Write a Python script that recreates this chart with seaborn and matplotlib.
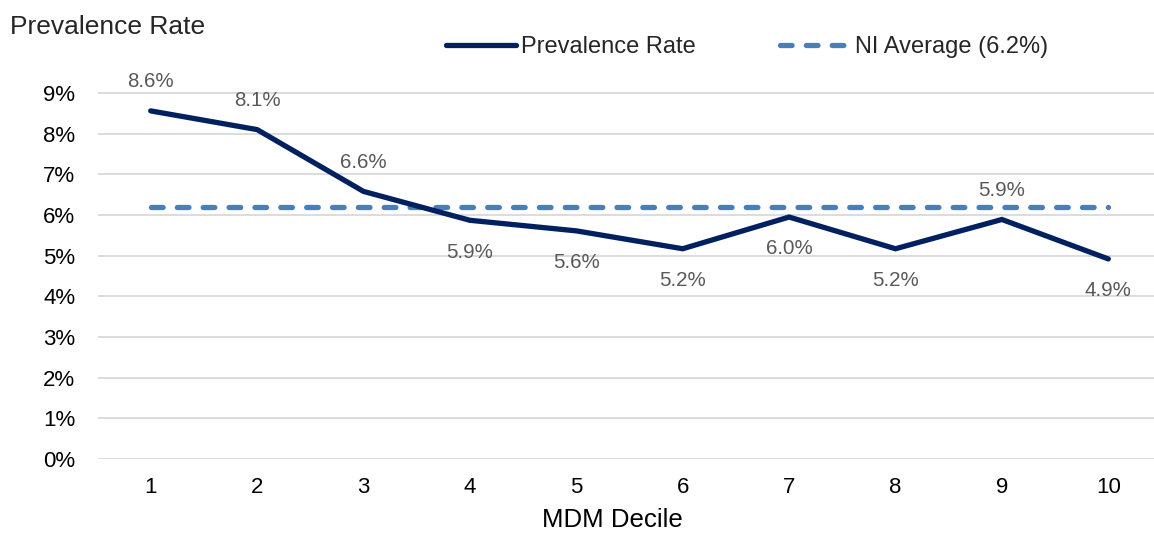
import pandas as pd
import matplotlib.pyplot as plt
import seaborn as sns
from matplotlib.lines import Line2D

# Data
deciles = [1, 2, 3, 4, 5, 6, 7, 8, 9, 10]
prevalence = [8.56, 8.10, 6.58, 5.87, 5.61, 5.17, 5.95, 5.17, 5.89, 4.92]
labels = ['8.6%', '8.1%', '6.6%', '5.9%', '5.6%', '5.2%', '6.0%', '5.2%', '5.9%', '4.9%']
label_above = [True, True, True, False, False, False, False, False, True, False]
ni_average = 6.2
y_ticks = [0, 1, 2, 3, 4, 5, 6, 7, 8, 9]

df = pd.DataFrame({'decile': deciles, 'rate': prevalence,
                   'ni': [ni_average] * len(deciles)})

sns.set_theme(style='white')
plt.rcParams['font.family'] = ['Liberation Sans', 'DejaVu Sans']

navy = '#002060'
blue = '#4a7ebb'
dash = (0, (2.2, 2.7))

fig = plt.figure(figsize=(11.54, 5.33), dpi=100)
# axes spans slightly past the right edge, like the original export
ax = fig.add_axes([97.5 / 1154, 1 - 459 / 533, 1064 / 1154, (459 - 68.6) / 533])

sns.lineplot(data=df, x='decile', y='ni', ax=ax, color=blue, linewidth=3.8,
             linestyle=dash, dash_capstyle='round', zorder=3)
sns.lineplot(data=df, x='decile', y='rate', ax=ax, color=navy, linewidth=3.8,
             solid_capstyle='round', solid_joinstyle='miter', zorder=4)

# Data labels
for x, y, lab, up in zip(deciles, prevalence, labels, label_above):
    ax.annotate(lab, (x, y), xytext=(0, 21 if up else -23), textcoords='offset points',
                ha='center', va='center', fontsize=14.8, color='#595959')

ax.set_xlim(0.5, 10.5)
ax.set_ylim(0, 9.6)
ax.set_xticks(deciles)
ax.set_yticks(y_ticks)
ax.set_yticklabels([f'{t}%' for t in y_ticks])
ax.tick_params(axis='both', labelsize=16, colors='black', length=0)
ax.tick_params(axis='y', pad=16)
ax.tick_params(axis='x', pad=13)
ax.yaxis.grid(True, color='#d9d9d9', linewidth=1.3)
ax.xaxis.grid(False)
for s in ax.spines.values():
    s.set_visible(False)

ax.set_xlabel('MDM Decile', fontsize=18.6, color='black', va='center')
ax.xaxis.set_label_coords((612 - 97.5) / 1064, (459 - 520) / 390.4)
ax.set_ylabel('')
fig.text(10 / 1154, 1 - 27 / 533, 'Prevalence Rate', fontsize=19, va='center', ha='left')

handles = [Line2D([], [], color=navy, linewidth=3.8, solid_capstyle='round'),
           Line2D([], [], color=blue, linewidth=3.8, linestyle=dash,
                  dash_capstyle='round')]
fig.legend(handles, ['Prevalence Rate', 'NI Average (6.2%)'], loc='center',
           bbox_to_anchor=(747 / 1154, 1 - 47 / 533), ncol=2, frameon=False,
           fontsize=17, handlelength=2.95, handletextpad=0.2, columnspacing=3.6,
           borderpad=0, borderaxespad=0)

plt.savefig('out.png', dpi=100)
